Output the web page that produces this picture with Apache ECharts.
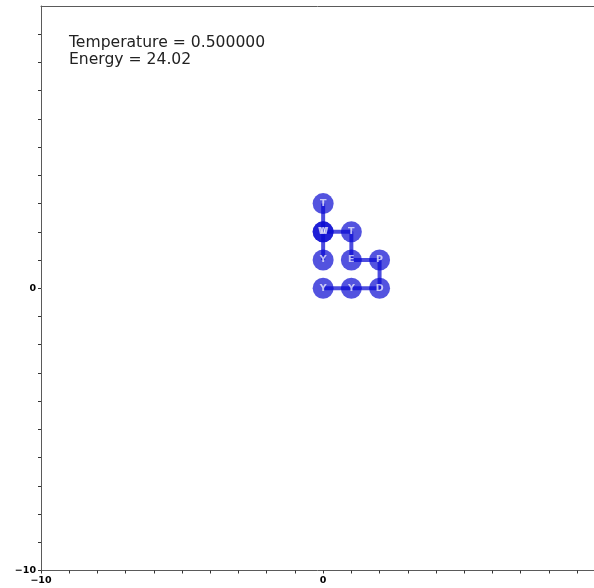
<!DOCTYPE html>
<html>
<head>
<meta charset="utf-8">
<script src="https://cdn.jsdelivr.net/npm/echarts@6/dist/echarts.min.js"></script>
<style>
  html, body { margin: 0; padding: 0; background: #fff; }
  #chart { width: 594px; height: 588px; }
</style>
</head>
<body>
<div id="chart"></div>
<script>
// Lattice protein fold: residues in chain order with their lattice coordinates
const residues = ['Y', 'Y', 'D', 'P', 'E', 'T', 'W', 'T', 'V', 'Y'];
const xs = [0, 1, 2, 2, 1, 1, 0, 0, 0, 0];
const ys = [0, 0, 0, 1, 1, 2, 2, 3, 2, 1];
const temperature = 0.5;
const energy = 24.02;
const labelledTicks = [-10, 0];
const xRange = [-10, 9.6];
const yRange = [-10, 10];

const points = residues.map((r, i) => ({ value: [xs[i], ys[i]], name: r }));

const chart = echarts.init(document.getElementById('chart'), null, { renderer: 'canvas' });

const spineColor = '#5a5a5a';

function axisOf(range) {
  return {
    type: 'value',
    min: range[0],
    max: range[1],
    interval: 1,
    splitLine: { show: false },
    axisLine: { show: true, onZero: false, lineStyle: { color: spineColor, width: 1 } },
    axisTick: { show: true, length: 3, lineStyle: { color: '#333' } },
    axisLabel: {
      color: '#000', fontSize: 9.5, fontWeight: 'bold', fontFamily: 'DejaVu Sans',
      margin: 5, showMaxLabel: false,
      formatter: v => (labelledTicks.indexOf(v) >= 0 ? String(v).replace('-', '\u2212') : '')
    }
  };
}

chart.setOption({
  animation: false,
  backgroundColor: '#fff',
  title: {
    text: 'Temperature = ' + temperature.toFixed(6) + '\nEnergy = ' + energy.toFixed(2),
    left: 69, top: 34, padding: 0,
    textStyle: {
      fontFamily: 'DejaVu Sans', fontSize: 15.6, fontWeight: 'normal',
      color: '#222', lineHeight: 17
    }
  },
  grid: { left: 41, top: 6, right: 0, bottom: 17.5, show: false },
  xAxis: [
    Object.assign(axisOf(xRange), { position: 'bottom' }),
    {
      type: 'value', position: 'top', min: xRange[0], max: xRange[1],
      axisLine: { show: true, onZero: false, lineStyle: { color: spineColor, width: 1 } },
      axisTick: { show: false }, axisLabel: { show: false }, splitLine: { show: false }
    }
  ],
  yAxis: Object.assign(axisOf(yRange), { position: 'left' }),
  series: [
    {
      type: 'line',
      data: points.map(p => p.value),
      symbol: 'none',
      lineStyle: { color: 'rgb(0,0,210)', width: 4, opacity: 0.7 },
      z: 2
    },
    {
      type: 'scatter',
      data: points,
      symbol: 'circle',
      symbolSize: 21,
      itemStyle: { color: 'rgb(10,10,210)', opacity: 0.7 },
      label: {
        show: true, position: 'inside', formatter: p => p.name,
        color: '#fff', fontSize: 9.5, fontWeight: 'bold', fontFamily: 'DejaVu Sans'
      },
      z: 3
    }
  ]
});
</script>
</body>
</html>
